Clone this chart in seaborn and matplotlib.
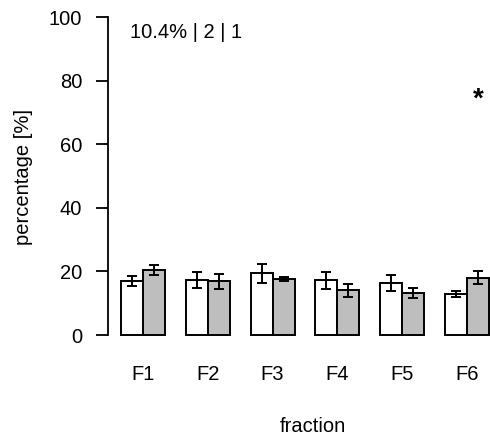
import numpy as np
import pandas as pd
import matplotlib
matplotlib.use("Agg")
import matplotlib.pyplot as plt
import seaborn as sns

# values
fractions = ["F1", "F2", "F3", "F4", "F5", "F6"]
white_vals = [17.0, 17.3, 19.5, 17.2, 16.4, 12.9]
white_err = [1.7, 2.4, 3.0, 2.6, 2.5, 0.9]
grey_vals = [20.5, 16.9, 17.6, 14.1, 13.2, 18.0]
grey_err = [1.5, 2.4, 0.5, 2.1, 1.6, 2.1]
star_level = 74
note = "10.4% | 2 | 1"

df = pd.DataFrame({
    "fraction": fractions * 2,
    "value": white_vals + grey_vals,
    "group": ["a"] * 6 + ["b"] * 6,
})
errs = white_err + grey_err

sns.set_style("white")
plt.rcParams["font.family"] = ["Liberation Sans", "DejaVu Sans"]
plt.rcParams["text.color"] = "black"
plt.rcParams["axes.labelcolor"] = "black"
plt.rcParams["xtick.color"] = "black"
plt.rcParams["ytick.color"] = "black"

fs = 14.5

fig = plt.figure(figsize=(4.9, 4.36), dpi=100)
ax = fig.add_axes([0.2204, 0.2206, 0.7796, 0.7512])

sns.barplot(data=df, x="fraction", y="value", hue="group", order=fractions,
            hue_order=["a", "b"], palette=["white", "#bebebe"], width=0.68,
            errorbar=None, edgecolor="black", linewidth=1.4, saturation=1,
            legend=False, ax=ax)

xs = [p.get_x() + p.get_width() / 2 for p in ax.patches]
hs = [p.get_height() for p in ax.patches]
ax.errorbar(xs, hs, yerr=errs, fmt="none", ecolor="black", elinewidth=1.4,
            capsize=3.5, capthick=1.4)

# significance mark above F6 grey bar
ax.text(xs[11], star_level, "*", ha="center", va="center", fontsize=20,
        fontweight="bold")
ax.text(0.057, 0.937, note, transform=ax.transAxes, ha="left", va="center",
        fontsize=fs)

ax.set_xlim(-0.54, 5.355)
ax.set_ylim(-1.5, 101.5)
ax.set_yticks([0, 20, 40, 60, 80, 100])
for s in ["top", "right", "bottom"]:
    ax.spines[s].set_visible(False)
ax.spines["left"].set_bounds(0, 100)
ax.spines["left"].set_linewidth(1.3)
ax.spines["left"].set_color("black")
ax.tick_params(axis="y", length=8.5, width=1.3, pad=10, labelsize=fs,
               left=True)
ax.tick_params(axis="x", length=0, pad=18, labelsize=fs)
ax.set_xlabel("fraction", fontsize=fs)
ax.set_ylabel("percentage [%]", fontsize=fs)
ax.xaxis.set_label_coords(0.537, -0.236)
ax.yaxis.set_label_coords(-0.196, 0.497)

fig.savefig("out.png", dpi=100)
